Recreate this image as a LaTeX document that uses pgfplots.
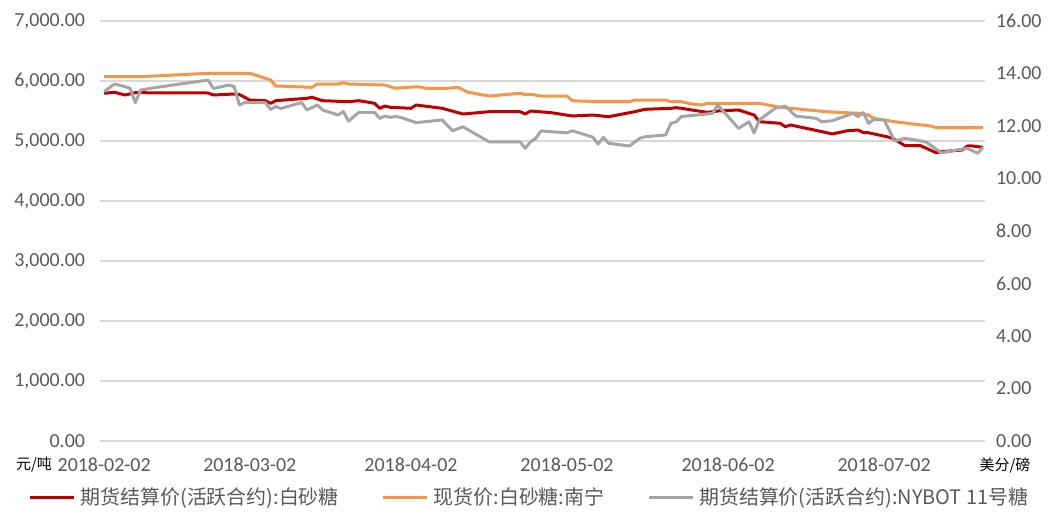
\documentclass[border=0pt]{standalone}
\usepackage{pgfplots}
\pgfplotsset{compat=1.18}
\usepackage{fontspec}
\setmainfont{Carlito}
\newfontfamily\cjk{Noto Sans CJK SC}

\definecolor{cRed}{HTML}{C00000}
\definecolor{cOrange}{HTML}{F79646}
\definecolor{cGray}{HTML}{A5A5A5}
\definecolor{cTick}{HTML}{595959}
\definecolor{cGrid}{HTML}{D9D9D9}

% x = days since 2018-02-02
\pgfplotsset{
  sugar/.style={
    scale only axis, width=442.5bp, height=210bp,
    xmin=-0.8, xmax=169.4,
    axis line style={draw=none},
    major tick length=0pt,
    tick label style={font=\fontsize{10}{12}\selectfont, text=cTick},
    /pgf/number format/assume math mode=true,
    every axis plot/.append style={line width=1.5bp, line join=round},
  },
}

\begin{document}
\begin{tikzpicture}
\useasboundingbox (-50bp,-38bp) rectangle (478bp,220.5bp);

\begin{axis}[sugar,
  ymin=0, ymax=7000, ytick={0,1000,...,7000},
  ymajorgrids, grid style={cGrid, line width=0.6bp},
  yticklabel style={/pgf/number format/.cd, fixed, fixed zerofill, precision=2, 1000 sep={,}},
  yticklabel shift=4bp,
  xtick={0,28,59,89,120,150},
  xticklabels={2018-02-02,2018-03-02,2018-04-02,2018-05-02,2018-06-02,2018-07-02},
  xticklabel shift=5bp,
]
% 期货结算价(活跃合约):白砂糖
\addplot[cRed] coordinates {
(0,5795) (2,5812) (4,5767) (6,5805) (20,5800) (21,5767) (25,5783) (26,5775)
(28,5683) (31,5672) (32,5628) (33,5672) (39,5712) (40,5728) (42,5672) (47,5655)
(49,5672) (52,5628) (53,5545) (54,5583) (55,5562) (59,5545) (60,5600) (65,5545)
(69,5450) (74,5488) (80,5488) (81,5450) (82,5500) (86,5472) (90,5417) (94,5433)
(97,5405) (102,5488) (104,5528) (109,5545) (110,5555) (111,5545) (113,5517) (116,5478)
(118,5500) (122,5517) (125,5433) (126,5322) (130,5295) (131,5238) (132,5267) (139,5138)
(140,5117) (143,5172) (145,5183) (146,5138) (147,5138) (151,5062) (152,5028) (154,4922)
(157,4922) (160,4805) (161,4822) (165,4850) (166,4917) (167,4917) (169,4895)
};
% 现货价:白砂糖:南宁
\addplot[cOrange] coordinates {
(0,6072) (7,6072) (20,6128) (28,6128) (31,6045) (32,6017) (33,5917) (40,5895)
(41,5950) (45,5950) (46,5972) (47,5950) (54,5933) (56,5878) (60,5905) (61,5895)
(62,5878) (66,5878) (68,5895) (70,5812) (74,5750) (80,5795) (81,5772) (82,5778)
(84,5750) (89,5750) (90,5672) (95,5655) (101,5655) (102,5683) (108,5683) (109,5655)
(111,5655) (113,5617) (115,5600) (116,5628) (126,5628) (130,5562) (134,5528) (139,5488)
(145,5462) (147,5433) (148,5378) (152,5322) (156,5278) (159,5250) (160,5222) (169,5222)
};
\end{axis}

\begin{axis}[sugar,
  ymin=0, ymax=16, ytick={0,2,...,16},
  axis y line*=right, hide x axis,
  yticklabel style={/pgf/number format/.cd, fixed, fixed zerofill, precision=2},
  yticklabel shift=2bp,
  legend style={at={(0.487,-0.135)}, anchor=center, draw=none, fill=none,
    legend columns=3, text=cTick,
    font=\cjk\fontsize{10}{12}\selectfont,
    nodes={inner xsep=2.5bp},
    /tikz/every even column/.append style={column sep=19bp}},
  legend image code/.code={\draw[#1] (0bp,0bp) -- (22bp,0bp);},
]
\addlegendimage{cRed, line width=1.5bp}
\addlegendentry{期货结算价(活跃合约):白砂糖}
\addlegendimage{cOrange, line width=1.5bp}
\addlegendentry{现货价:白砂糖:南宁}
% 期货结算价(活跃合约):NYBOT 11号糖
\addplot[cGray] coordinates {
(0,13.31) (2,13.60) (4,13.50) (5,13.43) (6,12.89) (7,13.37) (10,13.47) (20,13.75)
(21,13.43) (24,13.56) (25,13.50) (26,12.80) (27,12.89) (31,12.89) (32,12.63) (33,12.74)
(34,12.67) (38,12.89) (39,12.61) (41,12.80) (42,12.61) (45,12.42) (46,12.55) (47,12.19)
(49,12.52) (52,12.52) (53,12.29) (54,12.38) (55,12.33) (56,12.36) (57,12.33) (60,12.13)
(65,12.23) (67,11.82) (69,11.97) (74,11.40) (80,11.40) (81,11.15) (82,11.40) (83,11.53)
(84,11.81) (89,11.74) (90,11.82) (92,11.70) (94,11.57) (95,11.31) (96,11.57) (97,11.34)
(101,11.24) (103,11.53) (104,11.59) (108,11.66) (109,12.10) (110,12.16) (111,12.36) (116,12.46)
(117,12.48) (118,12.80) (122,11.91) (124,12.16) (125,11.74) (126,12.23) (129,12.67) (131,12.76)
(133,12.38) (137,12.29) (138,12.16) (140,12.20) (144,12.48) (145,12.36) (146,12.51) (147,12.10)
(148,12.25) (150,12.23) (152,11.43) (154,11.53) (158,11.40) (161,10.98) (164,11.09) (166,11.15)
(168,10.96) (169,11.19)
};
\addlegendentry{期货结算价(活跃合约):NYBOT 11号糖}
\end{axis}

\node[font=\cjk\fontsize{7.5}{9}\selectfont, text=black] at (-33bp,-12bp) {元/吨};
\node[font=\cjk\fontsize{7.5}{9}\selectfont, text=black] at (452.5bp,-12bp) {美分/磅};
\end{tikzpicture}
\end{document}
